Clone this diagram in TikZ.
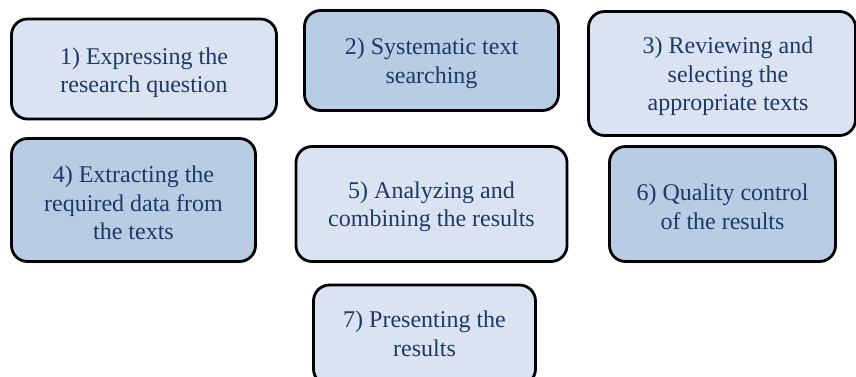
\documentclass[tikz,border=0pt]{standalone}
\usepackage{fontspec}
\setmainfont{Liberation Serif}
\definecolor{lightfill}{HTML}{DAE3F1}
\definecolor{darkfill}{HTML}{B8CCE4}
\definecolor{navytext}{HTML}{1F3864}
\tikzset{
  stepbox/.style={draw=black, line width=2.8pt, rounded corners=16pt, inner sep=0pt},
  lightbox/.style={stepbox, fill=lightfill},
  darkbox/.style={stepbox, fill=darkfill},
  steptext/.style={align=center, text=navytext, inner sep=0pt, font=\fontsize{24}{28.5}\selectfont}
}
\begin{document}
\begin{tikzpicture}[x=1pt,y=-1pt]
\useasboundingbox (0,0) rectangle (856,376);
\clip (0,0) rectangle (856,376);
\node[lightbox, minimum width=265, minimum height=100] (s1) at (144,69) {};
\node[darkbox, minimum width=254, minimum height=100] (s2) at (431.5,60.5) {};
\node[lightbox, minimum width=267, minimum height=124] (s3) at (722,73.5) {};
\node[darkbox, minimum width=244, minimum height=123] (s4) at (133.5,200) {};
\node[lightbox, minimum width=271, minimum height=115] (s5) at (431.5,204) {};
\node[darkbox, minimum width=226, minimum height=115] (s6) at (722.5,204) {};
\node[lightbox, minimum width=222, minimum height=100] (s7) at (424.5,335) {};
\node[steptext] (t1) at ([yshift=-3.5pt]s1.center) {1) Expressing the\\research question};
\node[steptext] (t2) at ([yshift=-3pt]s2.center) {2) Systematic text\\searching};
\node[steptext] (t3) at ([xshift=6pt,yshift=-3pt]s3.center) {3) Reviewing and\\selecting the\\appropriate texts};
\node[steptext] (t4) at ([yshift=-3pt]s4.center) {4) Extracting the\\required data from\\the texts};
\node[steptext] (t5) at ([yshift=-3pt]s5.center) {5) Analyzing and\\combining the results};
\node[steptext] (t6) at ([yshift=-3pt]s6.center) {6) Quality control\\of the results};
\node[steptext] (t7) at ([yshift=1pt]s7.center) {7) Presenting the\\results};
\end{tikzpicture}
\end{document}
